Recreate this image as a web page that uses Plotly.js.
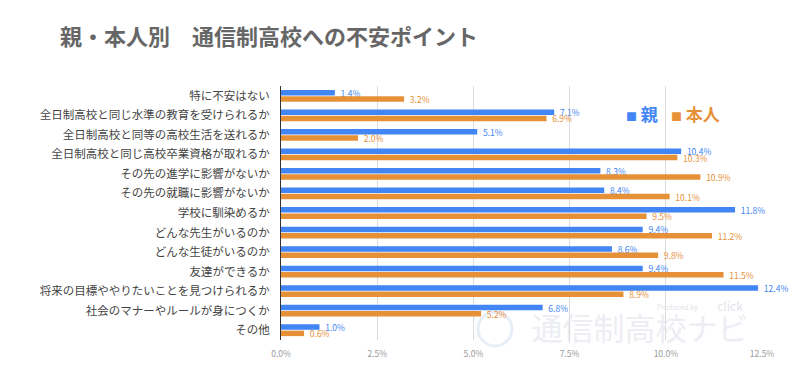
<!DOCTYPE html>
<html><head><meta charset="utf-8">
<script src="https://cdn.plot.ly/plotly-3.0.1.min.js"></script>
<style>html,body{margin:0;padding:0;background:#fff}#chart{width:800px;height:386px}</style>
</head><body><div id="chart"></div>
<script>
const categories = [
  "特に不安はない",
  "全日制高校と同じ水準の教育を受けられるか",
  "全日制高校と同等の高校生活を送れるか",
  "全日制高校と同じ高校卒業資格が取れるか",
  "その先の進学に影響がないか",
  "その先の就職に影響がないか",
  "学校に馴染めるか",
  "どんな先生がいるのか",
  "どんな生徒がいるのか",
  "友達ができるか",
  "将来の目標ややりたいことを見つけられるか",
  "社会のマナーやルールが身につくか",
  "その他"
];
const parentValues = [1.4, 7.1, 5.1, 10.4, 8.3, 8.4, 11.8, 9.4, 8.6, 9.4, 12.4, 6.8, 1.0];
const selfValues   = [3.2, 6.9, 2.0, 10.3, 10.9, 10.1, 9.5, 11.2, 9.8, 11.5, 8.9, 5.2, 0.6];
const seriesNames = ["親", "本人"];
const tickValues = [0, 2.5, 5, 7.5, 10, 12.5];
const tickLabels = ["0.0%", "2.5%", "5.0%", "7.5%", "10.0%", "12.5%"];

const font = "'Noto Sans CJK JP', 'Noto Sans', sans-serif";
const blue = "#4285F4", orange = "#E69138";

// pixel helpers -> plot-area paper coords
const M = {l:281, r:38, t:86, b:46}, W = 800, H = 386;
const pw = W - M.l - M.r, ph = H - M.t - M.b;
const px = x => (x - M.l) / pw;
const py = y => (H - M.b - y) / ph;

function barTrace(name, values, color) {
  return {type:'bar', orientation:'h', name:name, y:categories, x:values,
    marker:{color:color}, texttemplate:'   %{x:.1f}%', textposition:'outside', constraintext:'none',
    textfont:{size:8.5, color:color, family:font}, cliponaxis:false, showlegend:false, hoverinfo:'none'};
}
const traces = [barTrace(seriesNames[0], parentValues, blue), barTrace(seriesNames[1], selfValues, orange)];

const layout = {
  width:W, height:H,
  margin:M,
  paper_bgcolor:'#fff', plot_bgcolor:'#fff',
  font:{family:font, color:'#444'},
  title:{text:'親・本人別　通信制高校への不安ポイント', x:60/W, xanchor:'left', y:1-37/H, yanchor:'middle',
         font:{size:22, color:'#666', family:font, weight:'bold'}},
  barmode:'group', bargap:0.36, bargroupgap:0.12,
  showlegend:false,
  xaxis:{range:[0,12.5], tickvals:tickValues, ticktext:tickLabels, showgrid:true, gridcolor:'#dcdcdc',
         zeroline:false, tickfont:{size:8.5, color:'#999'}, fixedrange:true, ticklen:6, ticks:'outside', tickcolor:'rgba(0,0,0,0)'},
  yaxis:{autorange:'reversed', tickfont:{size:11.5, color:'#444'}, ticks:'outside', ticklen:8,
         tickcolor:'rgba(0,0,0,0)', showline:true, linecolor:'#333', linewidth:1, fixedrange:true},
  shapes:[
    {type:'circle', xref:'paper', yref:'paper', x0:px(478), x1:px(512), y0:py(346), y1:py(312), layer:'below',
     line:{width:3, color:'#e8eef8'}, fillcolor:'rgba(0,0,0,0)'},
    {type:'rect', xref:'paper', yref:'paper', x0:px(528), x1:px(752), y0:py(347), y1:py(316), layer:'below',
     line:{width:0}, fillcolor:'rgba(0,0,0,0)',
     label:{text:'通信制高校ナビ', textposition:'middle center', font:{size:31, color:'#eceef3', family:font}}},
    {type:'rect', xref:'paper', yref:'paper', x0:px(650), x1:px(705), y0:py(314), y1:py(302), layer:'below',
     line:{width:0}, fillcolor:'rgba(0,0,0,0)',
     label:{text:'Produced by', textposition:'middle center', font:{size:7, color:'#e0e4ea', family:font}}},
    {type:'rect', xref:'paper', yref:'paper', x0:px(708), x1:px(752), y0:py(316), y1:py(298), layer:'below',
     line:{width:0}, fillcolor:'rgba(0,0,0,0)',
     label:{text:'click', textposition:'middle center', font:{size:12, color:'#e4e4ea', family:font}}}
  ],
  annotations:[
    {text:'<span style="font-size:11px">■</span> '+seriesNames[0], x:px(624), y:py(113), xref:'paper', yref:'paper',
     xanchor:'left', yanchor:'middle', showarrow:false, font:{size:17, color:blue, family:font, weight:'bold'}},
    {text:'<span style="font-size:11px">■</span> '+seriesNames[1], x:px(669), y:py(113), xref:'paper', yref:'paper',
     xanchor:'left', yanchor:'middle', showarrow:false, font:{size:17, color:orange, family:font, weight:'bold'}}
  ]
};
Plotly.newPlot('chart', traces, layout, {displayModeBar:false, staticPlot:true});
</script></body></html>
